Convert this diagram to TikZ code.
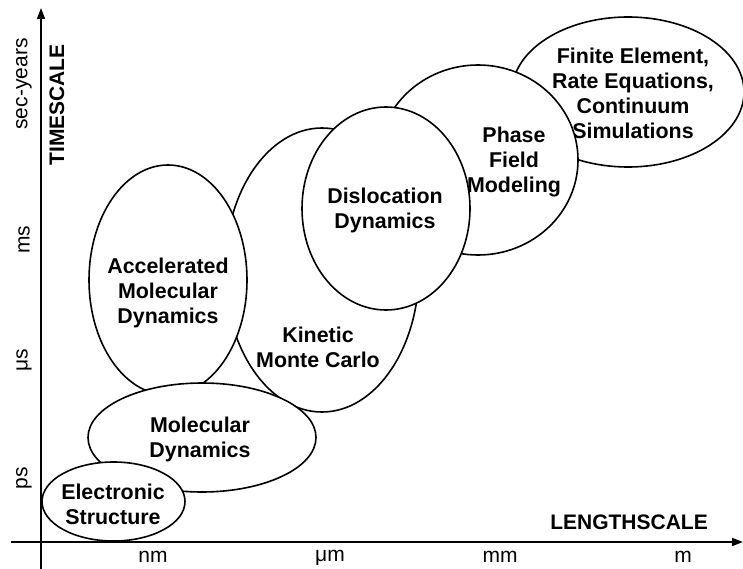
\documentclass[tikz,border=0pt]{standalone}
\usepackage{fontspec}
\setmainfont{Liberation Sans}
\usetikzlibrary{shapes.geometric,arrows.meta}
\tikzset{
  blob/.style={draw=black, fill=white, ellipse, line width=1.6pt, inner sep=0pt, outer sep=0pt},
  btext/.style={align=center, font=\fontsize{21.4}{25}\selectfont\bfseries, inner sep=0pt},
  axlabel/.style={font=\fontsize{21}{24}\selectfont, inner sep=0pt},
  axis/.style={line width=1.6pt, -{Triangle[length=11pt,width=8pt]}}
}
\begin{document}
\begin{tikzpicture}[x=1pt, y=-1pt]
\useasboundingbox (0,0) rectangle (743,569);
% axes
\coordinate (ybot) at (41,569);
\coordinate (ytop) at (41,8);
\coordinate (xleft) at (11,542);
\coordinate (xright) at (743,542);
\draw[axis] (ybot) -- (ytop);
\draw[axis] (xleft) -- (xright);
% axis labels
\node[axlabel, rotate=90] (secyears) at (24,84) {sec-years};
\node[axlabel, rotate=90, font=\fontsize{21}{24}\selectfont\bfseries] (timescale) at (57,105) {TIMESCALE};
\node[axlabel, rotate=90] (ms) at (24,240) {ms};
\node[axlabel, rotate=90] (us) at (24,360) {μs};
\node[axlabel, rotate=90] (ps) at (24,478) {ps};
\node[axlabel] (nm) at (153,557) {nm};
\node[axlabel] (um) at (330,558) {μm};
\node[axlabel] (mm) at (500,557) {mm};
\node[axlabel] (m) at (683,557) {m};
\node[axlabel, font=\fontsize{21}{24}\selectfont\bfseries] (lengthscale) at (629,522) {LENGTHSCALE};
% ellipses, back to front
\node[blob, minimum width=232pt, minimum height=150pt] (fe) at (628,92) {};
\node[btext] (fet) at (633,93) {Finite Element,\\Rate Equations,\\Continuum\\Simulations};
\node[blob, minimum width=200pt, minimum height=190pt] (pf) at (478,160) {};
\node[btext] (pft) at (514,162) {Phase\\Field\\Modeling};
\node[blob, minimum width=194pt, minimum height=284pt] (kmc) at (322,270) {};
\node[btext] (kmct) at (318,347) {Kinetic\\Monte Carlo};
\node[blob, minimum width=168pt, minimum height=203pt] (dd) at (386,208.5) {};
\node[btext] (ddt) at (385,210) {Dislocation\\Dynamics};
\node[blob, minimum width=158pt, minimum height=230pt] (amd) at (168,280) {};
\node[btext] (amdt) at (168,293) {Accelerated\\Molecular\\Dynamics};
\node[blob, minimum width=228pt, minimum height=109pt] (md) at (202,437.5) {};
\node[btext] (mdt) at (200,439) {Molecular\\Dynamics};
\node[blob, minimum width=143pt, minimum height=79pt] (es) at (113.5,501.5) {};
\node[btext] (est) at (113,504) {Electronic\\Structure};
\end{tikzpicture}
\end{document}
